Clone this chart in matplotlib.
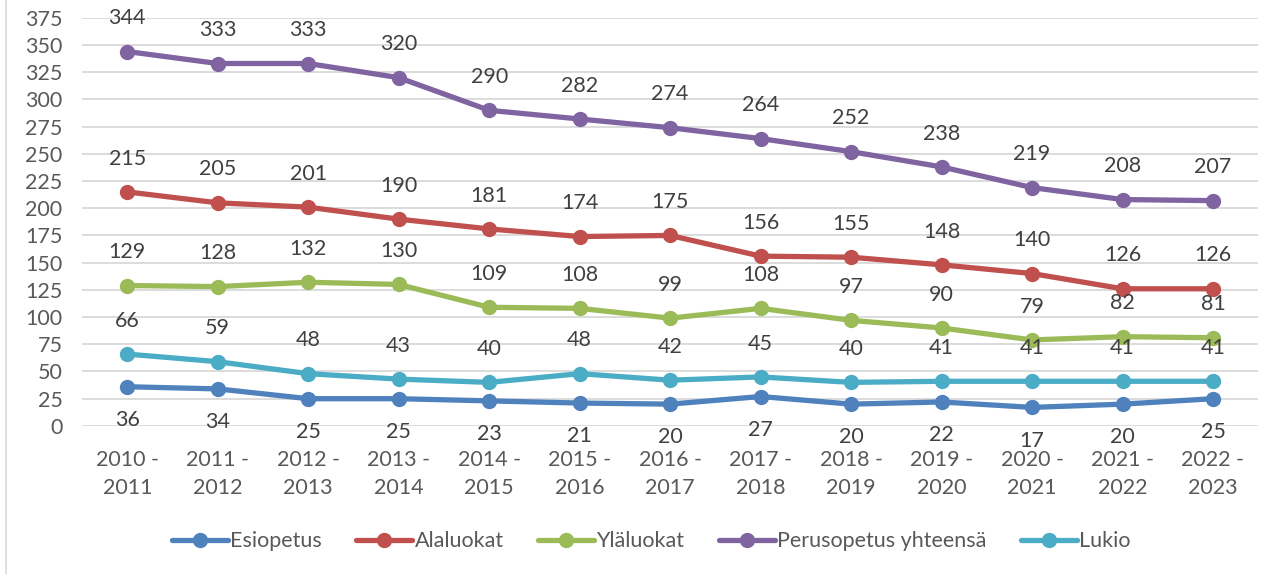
import matplotlib
matplotlib.use("Agg")
import matplotlib.pyplot as plt
from matplotlib.lines import Line2D

plt.rcParams["font.family"] = ["Lato", "DejaVu Sans"]

years = ["2010 -\n2011", "2011 -\n2012", "2012 -\n2013", "2013 -\n2014", "2014 -\n2015",
         "2015 -\n2016", "2016 -\n2017", "2017 -\n2018", "2018 -\n2019", "2019 -\n2020",
         "2020 -\n2021", "2021 -\n2022", "2022 -\n2023"]

esiopetus = [36, 34, 25, 25, 23, 21, 20, 27, 20, 22, 17, 20, 25]
alaluokat = [215, 205, 201, 190, 181, 174, 175, 156, 155, 148, 140, 126, 126]
ylaluokat = [129, 128, 132, 130, 109, 108, 99, 108, 97, 90, 79, 82, 81]
perusopetus = [344, 333, 333, 320, 290, 282, 274, 264, 252, 238, 219, 208, 207]
lukio = [66, 59, 48, 43, 40, 48, 42, 45, 40, 41, 41, 41, 41]

series = [
    ("Esiopetus", esiopetus, "#4F81BD", -1),
    ("Alaluokat", alaluokat, "#C0504D", 1),
    ("Yläluokat", ylaluokat, "#9BBB59", 1),
    ("Perusopetus yhteensä", perusopetus, "#8064A2", 1),
    ("Lukio", lukio, "#4BACC6", 1),
]

fs = 15.5

fig = plt.figure(figsize=(12.62, 5.74), dpi=100)
ax = fig.add_axes([0.065, 0.258, 0.932, 0.711])

x = list(range(len(years)))
for name, vals, color, side in series:
    ax.plot(x, vals, color=color, lw=3.8, marker="o", ms=10, label=name,
            solid_capstyle="round", zorder=3)
    for xi, v in zip(x, vals):
        ax.annotate(str(v), (xi, v), xytext=(0, 24 * side), textcoords="offset points",
                    ha="center", va="center", fontsize=fs, color="#404040")

ax.set_xlim(-0.5, len(years) - 0.5)
ax.set_ylim(0, 375)
ax.set_yticks(range(0, 376, 25))
ax.set_xticks(x)
ax.set_xticklabels(years, linespacing=1.5)
ax.tick_params(axis="both", length=0, labelsize=fs, colors="#595959")
ax.tick_params(axis="x", pad=17)
ax.tick_params(axis="y", pad=14)
ax.grid(axis="y", color="#D9D9D9", lw=1.3, zorder=0)
for s in ax.spines.values():
    s.set_visible(False)

fig.legend(loc="center", bbox_to_anchor=(0.516, 0.057), ncol=5, frameon=False,
           fontsize=fs, labelcolor="#595959", handlelength=2.6, columnspacing=1.6,
           handletextpad=0.1)

fig.add_artist(Line2D([0.005, 0.005], [0, 1], color="#D9D9D9", lw=1.2,
                      transform=fig.transFigure))

fig.savefig("out.png", dpi=100)
